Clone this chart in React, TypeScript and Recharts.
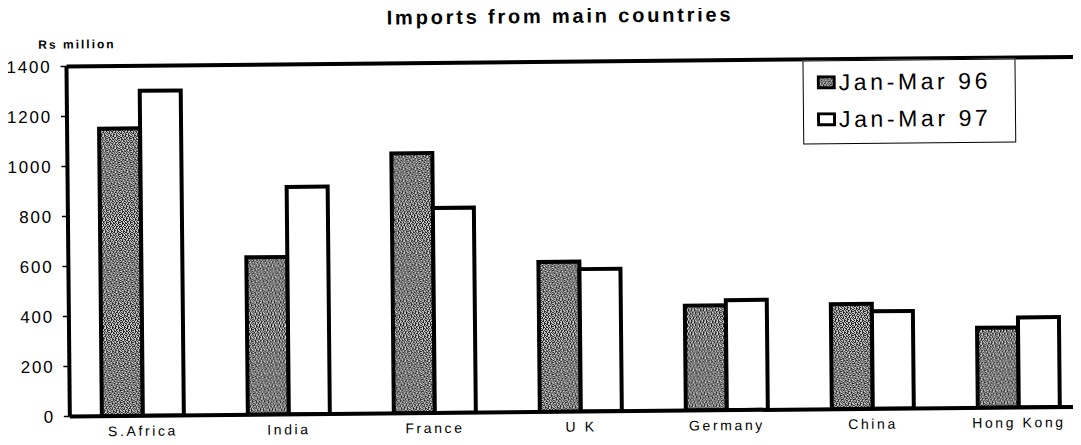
import React from 'react';
import { BarChart, Bar, XAxis, YAxis, Legend, ReferenceLine } from 'recharts';

const countries = ['S.Africa', 'India', 'France', 'U K', 'Germany', 'China', 'Hong Kong'];
const janMar96 = [1150, 630, 1040, 600, 420, 420, 320];
const janMar97 = [1300, 910, 820, 570, 440, 390, 360];
const yTicks = [0, 200, 400, 600, 800, 1000, 1200, 1400];

const data = countries.map((name, i) => ({ name, jan96: janMar96[i], jan97: janMar97[i] }));

const FONT = '"Liberation Sans", Arial, sans-serif';

// speckle texture for the 96 bars (scanned stipple look)
const speckle = [
  '#..#.##..#.#',
  '.##.#..##.#.',
  '#.#..#.#..##',
  '..##.##.#.#.',
  '#.#.#..#.#.#',
  '.#..##.#..#.',
  '##.#..#.##.#',
  '..#.##..#..#',
  '#.#..#.##.#.',
  '.##.#.#..#.#',
  '#..#..##.#..',
  '.#.##.#..##.',
];

const StippleDefs = () => (
  <defs>
    <pattern id="stipple" width={12} height={12} patternUnits="userSpaceOnUse">
      <rect width={12} height={12} fill="#d4d4d4" />
      {speckle.map((row, r) =>
        row.split('').map((c, k) =>
          c === '#' ? <rect key={`${r}-${k}`} x={k} y={r} width={1} height={1} fill="#1a1a1a" /> : null
        )
      )}
    </pattern>
  </defs>
);

const XTick = ({ x, y, payload }: any) => (
  <text x={x} y={y + 4} textAnchor="middle" fontSize={14} fontFamily={FONT} letterSpacing={2.6} fill="#000">
    {payload.value}
  </text>
);

const YTick = ({ x, y, payload }: any) => (
  <text x={x} y={y + 6} textAnchor="end" fontSize={17} fontFamily={FONT} letterSpacing={1.8} fill="#000">
    {payload.value}
  </text>
);

const renderLegend = (props: any) => {
  const { payload } = props;
  return (
    <div
      style={{
        border: '1px solid #000',
        background: '#fff',
        width: 213,
        height: 84,
        boxSizing: 'border-box',
        padding: '3px 0 0 13px',
        fontFamily: FONT,
      }}
    >
      {(payload || []).map((entry: any) => (
        <div key={entry.value} style={{ display: 'flex', alignItems: 'center', height: 37 }}>
          <svg width={20} height={15} style={{ marginRight: 2 }}>
            <rect
              x={1.5}
              y={1.5}
              width={16}
              height={11}
              fill={entry.value === 'Jan-Mar 96' ? 'url(#stipple)' : '#fff'}
              stroke="#000"
              strokeWidth={3}
            />
          </svg>
          <span style={{ fontSize: 23, letterSpacing: 3.6, color: '#000', lineHeight: '23px' }}>{entry.value}</span>
        </div>
      ))}
    </div>
  );
};

export default function App() {
  return (
    <div style={{ margin: -8, width: 1081, height: 445, overflow: 'hidden', background: '#fff' }}>
      <div
        style={{
          position: 'relative',
          width: 1090,
          height: 445,
          transform: 'rotate(-0.55deg)',
          transformOrigin: '540px 222px',
        }}
      >
        <div
          style={{
            position: 'absolute',
            top: 6,
            left: 0,
            width: 1124,
            textAlign: 'center',
            fontFamily: FONT,
            fontWeight: 'bold',
            fontSize: 20,
            lineHeight: '20px',
            letterSpacing: 2.8,
          }}
        >
          Imports from main countries
        </div>
        <div
          style={{
            position: 'absolute',
            top: 34,
            left: 40,
            fontFamily: FONT,
            fontWeight: 'bold',
            fontSize: 12,
            lineHeight: '12px',
            letterSpacing: 2,
          }}
        >
          Rs million
        </div>
        <BarChart
          width={1090}
          height={445}
          data={data}
          margin={{ top: 62, right: 0, bottom: 0, left: 0 }}
          barCategoryGap={32}
          barGap={0}
        >
          <StippleDefs />
          <XAxis
            dataKey="name"
            height={33}
            tickLine={false}
            tickSize={6}
            tickMargin={10}
            axisLine={{ stroke: '#000', strokeWidth: 4 }}
            tick={<XTick />}
            interval={0}
          />
          <YAxis
            width={68}
            domain={[0, 1400]}
            ticks={yTicks}
            tickSize={6}
            tickMargin={9}
            tickLine={{ stroke: '#000', strokeWidth: 1.5 }}
            axisLine={{ stroke: '#000', strokeWidth: 4 }}
            tick={<YTick />}
            allowDataOverflow
          />
          <ReferenceLine y={1400} stroke="#000" strokeWidth={4} />
          <Legend
            layout="vertical"
            align="center"
            verticalAlign="middle"
            content={renderLegend}
            wrapperStyle={{ top: 63, left: 804, width: 213 }}
          />
          <Bar dataKey="jan96" name="Jan-Mar 96" fill="url(#stipple)" stroke="#000" strokeWidth={4} isAnimationActive={false} />
          <Bar dataKey="jan97" name="Jan-Mar 97" fill="#fff" stroke="#000" strokeWidth={4} isAnimationActive={false} />
        </BarChart>
      </div>
    </div>
  );
}
